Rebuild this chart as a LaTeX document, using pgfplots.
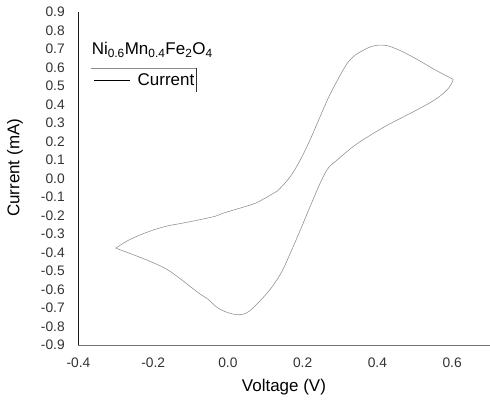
\documentclass[border=0pt]{standalone}
\usepackage{fontspec}
\setmainfont{Liberation Sans}
\usepackage{pgfplots}
\pgfplotsset{compat=1.18}

% cyclic voltammogram
% anodic sweep, -0.3 V -> 0.6 V
\pgfplotstableread{
V I
-0.300 -0.376
-0.264 -0.331
-0.211 -0.286
-0.166 -0.258
-0.122 -0.241
-0.077 -0.223
-0.033 -0.203
-0.011 -0.186
0.061 -0.142
0.083 -0.124
0.123 -0.078
0.136 -0.060
0.167 0.011
0.194 0.102
0.220 0.210
0.247 0.336
0.275 0.462
0.314 0.606
0.332 0.651
0.349 0.678
0.385 0.714
0.420 0.720
0.456 0.696
0.500 0.651
0.554 0.588
0.603 0.536
}\anodic
% cathodic sweep, 0.6 V -> -0.3 V
\pgfplotstableread{
V I
0.603 0.536
0.589 0.485
0.554 0.426
0.500 0.365
0.429 0.291
0.376 0.228
0.336 0.174
0.292 0.100
0.268 0.055
0.247 -0.024
0.220 -0.151
0.194 -0.277
0.167 -0.403
0.145 -0.500
0.120 -0.580
0.091 -0.650
0.056 -0.718
0.029 -0.736
-0.006 -0.720
-0.033 -0.690
-0.051 -0.655
-0.077 -0.620
-0.104 -0.578
-0.135 -0.530
-0.166 -0.487
-0.211 -0.445
-0.255 -0.410
-0.300 -0.376
}\cathodic

\begin{document}
\begin{tikzpicture}
\begin{axis}[scale only axis,width=411.5pt,height=333.5pt,
  xmin=-0.4,xmax=0.7,ymin=-0.9,ymax=0.9,
  axis lines=left,
  x axis line style={-,black!55,line width=1pt},
  y axis line style={-,black!90,line width=1.2pt},
  major tick length=0pt,
  xtick={-0.4,-0.2,0,0.2,0.4,0.6},
  ytick={-0.9,-0.8,-0.7,-0.6,-0.5,-0.4,-0.3,-0.2,-0.1,0,0.1,0.2,0.3,0.4,0.5,0.6,0.7,0.8,0.9},
  /pgf/number format/.cd,fixed,fixed zerofill,precision=1,assume math mode=true,/pgfplots/.cd,
  tick label style={font=\fontsize{13.8}{16}\selectfont,text=black!80,inner sep=0pt},
  xticklabel style={anchor=center,yshift=-18pt},
  yticklabel style={anchor=east,xshift=-13.5pt},
  xlabel={Voltage (V)},ylabel={Current (mA)},
  label style={font=\fontsize{17}{20}\selectfont},
  xlabel style={at={(axis description cs:0.5,-0.1274)},anchor=center},
  ylabel style={at={(axis description cs:-0.1543,0.532)},anchor=center},
  legend style={at={(axis description cs:0.0377,0.796)},anchor=west,draw=none,fill=none,
    inner sep=0pt,font=\fontsize{17}{20}\selectfont,nodes={inner sep=0pt}},
  legend image code/.code={\draw[black,line width=0.6pt](0pt,0pt)--(36pt,0pt);\path(43pt,0pt);},
]
\addplot[black!45,line width=0.55pt,smooth,tension=0.6] table[x=V,y=I]{\anodic};
\addlegendentry{Current}
\addplot[black!45,line width=0.55pt,smooth,tension=0.6,forget plot] table[x=V,y=I]{\cathodic};
\draw[black!45,line width=0.6pt](axis description cs:0.0296,0.832)--(axis description cs:0.2872,0.832);
\draw[black!80,line width=0.8pt](axis description cs:0.2872,0.832)--(axis description cs:0.2872,0.760);
\node[anchor=base west,inner sep=0pt,font=\fontsize{17}{20}\selectfont] at (axis description cs:0.032,0.871)
  {Ni\textsubscript{0.6}Mn\textsubscript{0.4}Fe\textsubscript{2}O\textsubscript{4}};
\end{axis}
\path[use as bounding box](-78.5pt,-58.5pt) rectangle (411.5pt,345.5pt);
\end{tikzpicture}
\end{document}
